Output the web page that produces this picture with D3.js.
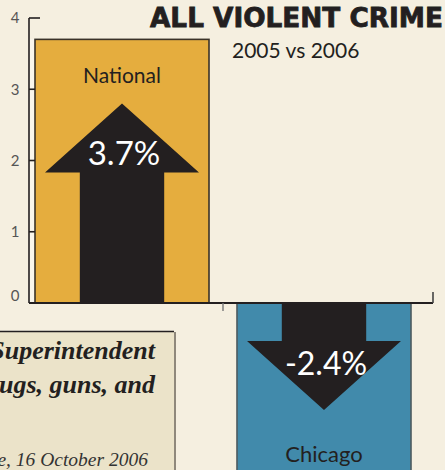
<!DOCTYPE html>
<html>
<head>
<meta charset="utf-8">
<script src="https://cdn.jsdelivr.net/npm/d3@7"></script>
<style>
  html, body { margin: 0; padding: 0; background: #f5efe0; overflow: hidden; }
  svg { display: block; }
</style>
</head>
<body>
<svg id="chart" width="445" height="470"></svg>
<script>
// ---- data ----
const categories = ["National", "Chicago"];
const values = [3.7, -2.4];
const valueLabels = ["3.7%", "-2.4%"];
const yTicks = [0, 1, 2, 3, 4];
const titleText = "ALL VIOLENT CRIME";
const subtitleText = "2005 vs 2006";
const quoteLines = ["Superintendent", "drugs, guns, and"];
const sourceLine = "Tribune, 16 October 2006";

// ---- styles ----
const W = 445, H = 470;
const colors = { National: "#e5ad3e", Chicago: "#418aab" };
const ink = "#231f20";
const sans = "Lato, 'Open Sans', sans-serif";

const svg = d3.select("#chart");
svg.append("rect").attr("width", W).attr("height", H).attr("fill", "#f5efe0");

const y = d3.scaleLinear().domain([0, 4]).range([303, 18]);
const x = d3.scaleBand().domain(categories).range([35, 411]).paddingInner(0.1386).paddingOuter(0);
const axisX = 29, axisRight = 433;

// light strip between axis and first bar
svg.append("rect")
  .attr("x", axisX).attr("y", y(values[0]))
  .attr("width", x("National") - axisX).attr("height", y(0) - y(values[0]))
  .attr("fill", "#faf6ec");

// bars
const bw = x.bandwidth();
svg.selectAll("rect.bar").data(categories).join("rect")
  .attr("class", "bar")
  .attr("x", d => x(d))
  .attr("y", (d, i) => Math.min(y(values[i]), y(0)))
  .attr("width", bw)
  .attr("height", (d, i) => Math.abs(y(values[i]) - y(0)))
  .attr("fill", d => colors[d])
  .attr("stroke", (d, i) => i === 0 ? "#3a3228" : "#4d5a60")
  .attr("stroke-width", 1.6);

// arrows
const shaftW = bw * 0.485, headW = bw * 0.885, headLen = 69, tipInset = 64;
categories.forEach((c, i) => {
  const cx = x(c) + bw / 2;
  const dir = values[i] >= 0 ? -1 : 1;        // -1 up, +1 down (screen)
  const y0 = y(0);
  const tip = y(values[i]) - dir * tipInset;
  const base = tip - dir * headLen;
  const pts = [
    [cx - shaftW / 2, y0], [cx - shaftW / 2, base], [cx - headW / 2, base],
    [cx, tip], [cx + headW / 2, base], [cx + shaftW / 2, base], [cx + shaftW / 2, y0]
  ];
  svg.append("path").attr("d", d3.line()(pts) + "Z").attr("fill", ink);
});

// axis lines
const axisG = svg.append("g");
axisG.append("line").attr("x1", axisX).attr("x2", axisX).attr("y1", y(4)).attr("y2", y(0))
  .attr("stroke", ink).attr("stroke-width", 1.6);
axisG.append("line").attr("x1", axisX).attr("x2", axisRight).attr("y1", y(0)).attr("y2", y(0))
  .attr("stroke", ink).attr("stroke-width", 2);
axisG.append("line").attr("x1", axisRight).attr("x2", axisRight).attr("y1", y(0)).attr("y2", y(0) - 11)
  .attr("stroke", "#444").attr("stroke-width", 1.6);
axisG.append("line").attr("x1", 223).attr("x2", 223).attr("y1", y(0)).attr("y2", y(0) + 8)
  .attr("stroke", "#777").attr("stroke-width", 1.4);

axisG.selectAll("line.tick").data(yTicks.filter(t => t > 0)).join("line")
  .attr("class", "tick")
  .attr("x1", axisX).attr("x2", t => t > values[0] ? axisX + 11 : x("National"))
  .attr("y1", t => y(t)).attr("y2", t => y(t))
  .attr("stroke", ink).attr("stroke-width", 1.6);

axisG.selectAll("text.tl").data(yTicks).join("text")
  .attr("class", "tl")
  .attr("x", 15).attr("y", t => t === 0 ? y(t) - 7 : y(t))
  .attr("dy", "0.36em")
  .attr("text-anchor", "middle")
  .attr("font-family", sans).attr("font-size", 15).attr("fill", "#555")
  .text(d => d);

// bar labels
svg.append("text").attr("x", x("National") + bw / 2).attr("y", 83)
  .attr("text-anchor", "middle").attr("font-family", sans).attr("font-size", 21)
  .attr("fill", ink).text(categories[0]);
svg.append("text").attr("x", x("Chicago") + bw / 2).attr("y", 462)
  .attr("text-anchor", "middle").attr("font-family", sans).attr("font-size", 22)
  .attr("fill", ink).text(categories[1]);

svg.append("text").attr("x", x("National") + bw / 2 + 2).attr("y", 165)
  .attr("text-anchor", "middle").attr("font-family", sans).attr("font-size", 33)
  .attr("fill", "#fff").text(valueLabels[0]);
svg.append("text").attr("x", x("Chicago") + bw / 2 + 2).attr("y", 375)
  .attr("text-anchor", "middle").attr("font-family", sans).attr("font-size", 32)
  .attr("fill", "#fff").text(valueLabels[1]);

// title
svg.append("text").attr("x", 150).attr("y", 27)
  .attr("font-family", "'DejaVu Sans', sans-serif").attr("font-weight", "bold").attr("font-size", 26)
  .attr("textLength", 293).attr("lengthAdjust", "spacingAndGlyphs")
  .attr("stroke", ink).attr("stroke-width", 0.8)
  .attr("fill", ink).text(titleText);
svg.append("text").attr("x", 232).attr("y", 58)
  .attr("font-family", sans).attr("font-size", 21)
  .attr("fill", ink).text(subtitleText);

// quote box
const qb = svg.append("g");
qb.append("rect").attr("x", -10).attr("y", 332).attr("width", 186).attr("height", 150)
  .attr("fill", "#8f887c");
qb.append("rect").attr("x", -10).attr("y", 331).attr("width", 184).attr("height", 150)
  .attr("fill", "#ebe3c9");
qb.append("line").attr("x1", -10).attr("x2", 174).attr("y1", 331.5).attr("y2", 331.5)
  .attr("stroke", ink).attr("stroke-width", 1.4);
qb.selectAll("text.q").data(quoteLines).join("text")
  .attr("class", "q")
  .attr("x", 155).attr("y", (d, i) => 359 + i * 34)
  .attr("text-anchor", "end")
  .attr("font-family", "'Liberation Serif', serif").attr("font-style", "italic").attr("font-weight", "bold")
  .attr("font-size", 26).attr("fill", ink).text(d => d);
qb.append("text").attr("x", 148).attr("y", 466).attr("text-anchor", "end")
  .attr("font-family", "'Liberation Serif', serif").attr("font-style", "italic")
  .attr("font-size", 19.5).attr("fill", "#333").text(sourceLine);
</script>
</body>
</html>
